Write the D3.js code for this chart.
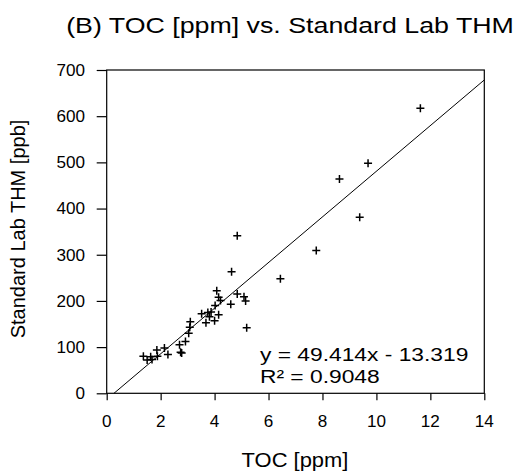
<!DOCTYPE html>
<html>
<head>
<meta charset="utf-8">
<script src="https://cdn.jsdelivr.net/npm/d3@7"></script>
<style>
  html, body { margin: 0; padding: 0; background: #fff; }
  svg { display: block; }
  text { font-family: "Liberation Sans", Arial, sans-serif; fill: #000; }
</style>
</head>
<body>
<svg id="chart" width="523" height="476"></svg>
<script>
// ---- data ----
const toc = [1.36, 1.50, 1.63, 1.68, 1.86, 1.88, 2.14, 2.27, 2.70, 2.74, 2.78, 2.92, 3.04, 3.08, 3.10,
             3.52, 3.68, 3.75, 3.81, 3.87, 4.00, 4.02, 4.08, 4.15, 4.15, 4.22, 4.60, 4.63, 4.84, 4.84,
             5.09, 5.15, 5.19, 6.44, 7.77, 8.63, 9.38, 9.69, 11.63];
const thm = [80, 72, 79, 73, 94, 80, 98, 84, 105, 89, 87, 112, 130, 143, 155,
             172, 153, 175, 166, 176, 157, 190, 222, 208, 170, 201, 193, 263, 341, 215,
             209, 200, 142, 248, 309, 464, 381, 498, 617];
const xTicks = [0, 2, 4, 6, 8, 10, 12, 14];
const yTicks = [0, 100, 200, 300, 400, 500, 600, 700];
const slope = 49.414;
const intercept = -13.319;
const r2 = 0.9048;
const titleText = "(B) TOC [ppm] vs. Standard Lab THM";
const xLabel = "TOC [ppm]";
const yLabel = "Standard Lab THM [ppb]";

// ---- layout ----
const L = 106.7, R = 484.3, T = 70, B = 393.3;
const svg = d3.select("#chart");
const x = d3.scaleLinear().domain([0, 14]).range([L, R]);
const y = d3.scaleLinear().domain([0, 700]).range([B, T]);

function stext(g, px, py, str, size, sx, anchor) {
  return g.append("text")
    .attr("transform", `translate(${px},${py}) scale(${sx},1)`)
    .attr("text-anchor", anchor)
    .style("font-size", size + "px")
    .text(str);
}

// frame
svg.append("rect").attr("x", L).attr("y", T).attr("width", R - L).attr("height", B - T)
  .attr("fill", "none").attr("stroke", "#000").attr("stroke-width", 1.2);

// x axis
const xAxis = d3.axisBottom(x).tickValues(xTicks).tickSize(7).tickFormat("");
const gx = svg.append("g").attr("transform", `translate(0,${B})`).call(xAxis);
gx.select(".domain").remove();
gx.selectAll(".tick line").attr("stroke", "#000").attr("stroke-width", 1.2);
xTicks.forEach(t => stext(svg, x(t), 426.5, String(t), 16, 1.07, "middle"));

// y axis
const yAxis = d3.axisLeft(y).tickValues(yTicks).tickSize(10).tickFormat("");
const gy = svg.append("g").attr("transform", `translate(${L},0)`).call(yAxis);
gy.select(".domain").remove();
gy.selectAll(".tick line").attr("stroke", "#000").attr("stroke-width", 1.2);
yTicks.forEach(t => stext(svg, 85, y(t) + 5.8, String(t), 16, 1.07, "end"));

// trendline
const x0 = -intercept / slope;
const lineData = [[x0, 0], [14, slope * 14 + intercept]];
svg.append("path")
  .attr("d", d3.line().x(d => x(d[0])).y(d => y(d[1]))(lineData))
  .attr("fill", "none").attr("stroke", "#000").attr("stroke-width", 1);

// points as "+"
const pts = toc.map((v, i) => [v, thm[i]]);
svg.append("g").selectAll("path.pt").data(pts).join("path")
  .attr("class", "pt")
  .attr("transform", d => `translate(${x(d[0])},${y(d[1])})`)
  .attr("d", "M-4,0H4M0,-4V4")
  .attr("stroke", "#000").attr("stroke-width", 1.5).attr("fill", "none");

// equation
stext(svg, 260, 360.5, `y = ${slope}x - ${Math.abs(intercept)}`, 19, 1.2, "start");
stext(svg, 260, 382.5, `R² = ${r2}`, 19, 1.2, "start");

// title & labels
stext(svg, 290, 32.5, titleText, 22.5, 1.19, "middle");
stext(svg, 295, 467, xLabel, 20.5, 1.07, "middle");
svg.append("text")
  .attr("transform", `translate(25,229) rotate(-90)`)
  .attr("text-anchor", "middle")
  .style("font-size", "20px")
  .text(yLabel);
</script>
</body>
</html>
